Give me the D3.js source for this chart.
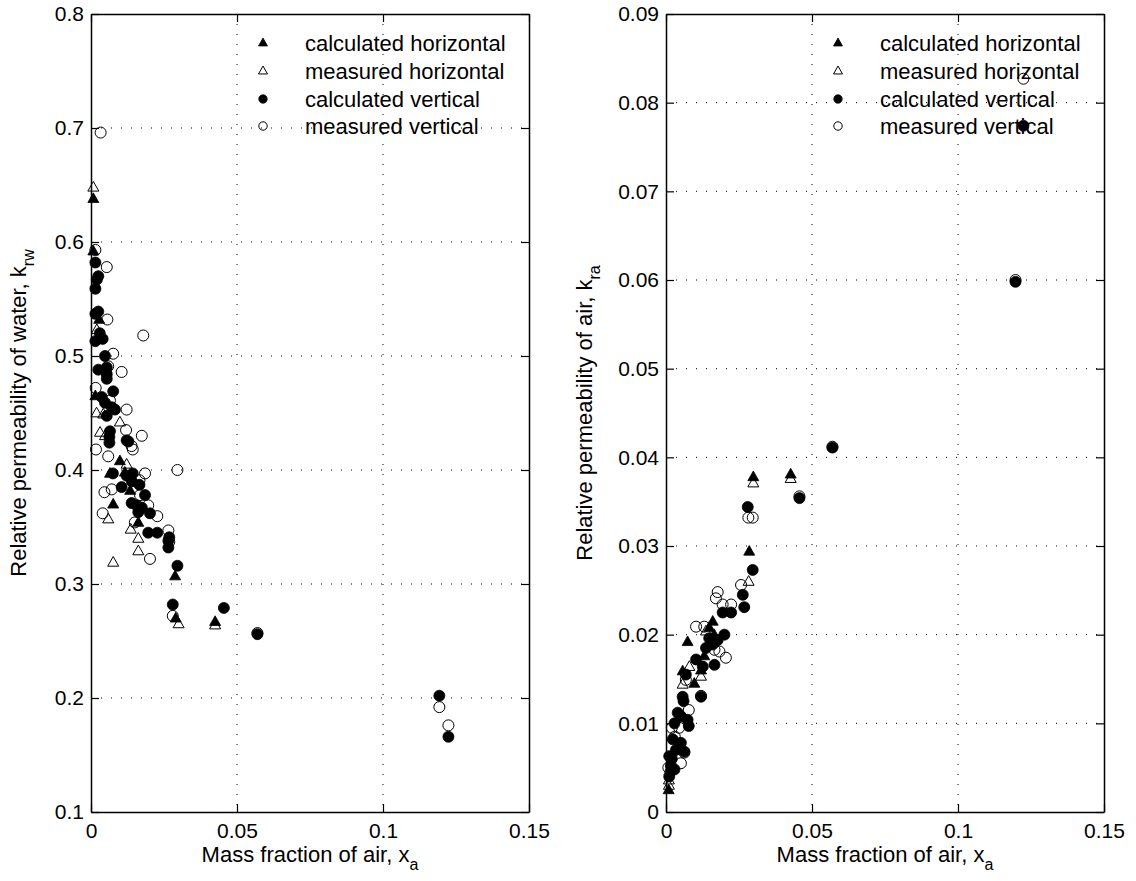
<!DOCTYPE html>
<html><head><meta charset="utf-8">
<script src="https://cdn.jsdelivr.net/npm/d3@7"></script>
<style>body{margin:0;background:#fff;} text{font-family:"Liberation Sans",Arial,sans-serif;}</style>
</head><body>
<svg id="c" width="1136" height="881"></svg>
<script>
// ---------- DATA ----------
const seriesNames = ["calculated horizontal","measured horizontal","calculated vertical","measured vertical"];
const xTicks = [0, 0.05, 0.1, 0.15];
const xTickLabels = ["0","0.05","0.1","0.15"];
const leftYTicks = [0.1,0.2,0.3,0.4,0.5,0.6,0.7,0.8];
const leftYTickLabels = ["0.1","0.2","0.3","0.4","0.5","0.6","0.7","0.8"];
const rightYTicks = [0,0.01,0.02,0.03,0.04,0.05,0.06,0.07,0.08,0.09];
const rightYTickLabels = ["0","0.01","0.02","0.03","0.04","0.05","0.06","0.07","0.08","0.09"];

// Left panel: relative permeability of water
const krwCalcHoriz = [[0.0008,0.638],[0.0008,0.592],[0.0028,0.532],[0.0015,0.465],[0.0099,0.408],[0.0065,0.397],[0.0116,0.398],[0.0134,0.382],[0.0076,0.370],[0.0162,0.354],[0.0288,0.307],[0.029,0.270],[0.0425,0.267]];
const krwMeasHoriz = [[0.0008,0.648],[0.002,0.523],[0.0019,0.450],[0.0042,0.449],[0.0099,0.442],[0.0031,0.433],[0.0048,0.430],[0.0122,0.405],[0.0059,0.357],[0.0136,0.348],[0.0162,0.340],[0.0162,0.329],[0.0076,0.319],[0.030,0.265],[0.0425,0.264]];
const krwCalcVert = [[0.0015,0.582],[0.0025,0.570],[0.002,0.567],[0.0015,0.559],[0.0025,0.539],[0.0015,0.537],[0.003,0.520],[0.004,0.515],[0.0015,0.513],[0.0048,0.500],[0.0025,0.488],[0.0054,0.490],[0.0054,0.484],[0.0054,0.480],[0.0037,0.464],[0.0076,0.469],[0.0048,0.459],[0.0071,0.455],[0.0082,0.453],[0.0054,0.4475],[0.0065,0.434],[0.0063,0.429],[0.0063,0.424],[0.0122,0.426],[0.0128,0.425],[0.0075,0.397],[0.0122,0.395],[0.0143,0.397],[0.014,0.390],[0.0105,0.385],[0.0166,0.387],[0.0185,0.378],[0.0139,0.371],[0.0156,0.369],[0.0174,0.367],[0.0162,0.363],[0.0202,0.362],[0.0196,0.345],[0.0227,0.345],[0.0268,0.341],[0.0265,0.338],[0.0265,0.332],[0.0296,0.316],[0.028,0.282],[0.0455,0.279],[0.057,0.256],[0.1193,0.202],[0.1224,0.166]];
const krwMeasVert = [[0.0033,0.696],[0.0015,0.593],[0.0054,0.578],[0.0056,0.532],[0.0179,0.518],[0.0076,0.502],[0.0059,0.491],[0.0105,0.486],[0.0016,0.472],[0.0065,0.461],[0.0122,0.453],[0.012,0.435],[0.0174,0.430],[0.0139,0.421],[0.0143,0.418],[0.0017,0.418],[0.0059,0.412],[0.0185,0.397],[0.0296,0.400],[0.0166,0.391],[0.0071,0.383],[0.0046,0.3805],[0.0168,0.378],[0.0196,0.369],[0.0227,0.3595],[0.004,0.362],[0.015,0.354],[0.0265,0.347],[0.0268,0.337],[0.0202,0.322],[0.028,0.272],[0.057,0.257],[0.1193,0.192],[0.1224,0.176]];

// Right panel: relative permeability of air
const kraCalcHoriz = [[0.0009,0.0025],[0.0017,0.005],[0.0074,0.0192],[0.016,0.0215],[0.0148,0.0208],[0.0165,0.020],[0.0131,0.0176],[0.012,0.016],[0.0057,0.0159],[0.0097,0.0145],[0.0285,0.0294],[0.0299,0.0378],[0.0427,0.0381]];
const kraMeasHoriz = [[0.001,0.0036],[0.001,0.003],[0.0057,0.0144],[0.008,0.0164],[0.012,0.0153],[0.0137,0.0204],[0.016,0.0195],[0.0283,0.026],[0.0299,0.0371],[0.0427,0.0376]];
const kraCalcVert = [[0.0011,0.004],[0.0011,0.0063],[0.0017,0.0052],[0.002,0.006],[0.0029,0.0048],[0.0023,0.0082],[0.0034,0.007],[0.0051,0.0078],[0.0063,0.0068],[0.0029,0.010],[0.004,0.0112],[0.0051,0.0108],[0.0074,0.0104],[0.0078,0.0097],[0.0057,0.013],[0.006,0.0125],[0.012,0.013],[0.0068,0.0155],[0.0103,0.0172],[0.0126,0.0164],[0.0166,0.0166],[0.0137,0.0185],[0.016,0.0189],[0.0177,0.0194],[0.0148,0.0196],[0.020,0.020],[0.0194,0.0225],[0.0223,0.0225],[0.0268,0.0231],[0.0263,0.0245],[0.0297,0.0273],[0.028,0.0344],[0.0457,0.0354],[0.057,0.0411],[0.1197,0.0598],[0.1224,0.0774]];
const kraMeasVert = [[0.0015,0.0045],[0.0008,0.005],[0.0051,0.0055],[0.0063,0.0067],[0.0068,0.0149],[0.0078,0.0115],[0.002,0.0095],[0.0045,0.0095],[0.003,0.0085],[0.012,0.0131],[0.0103,0.0209],[0.0131,0.0209],[0.0166,0.0183],[0.0183,0.0181],[0.0205,0.0174],[0.0177,0.0248],[0.0171,0.0241],[0.0194,0.0234],[0.0223,0.0234],[0.0257,0.0256],[0.0282,0.0332],[0.0297,0.0332],[0.0457,0.0356],[0.057,0.0412],[0.1197,0.0600],[0.1224,0.0827]];

// ---------- DRAW ----------
const svg = d3.select("#c");
const TFS = 21, LFS = 22;

function triPath(s){
  const h = s*0.88;
  return `M0,${-h/2-1}L${s/2},${h/2-1}L${-s/2},${h/2-1}Z`;
}
function drawMarker(g, type, x, y, big){
  const s = big ? 11 : 9;
  const r = big ? 5.5 : 4.2;
  if(type===0) g.append("path").attr("d",triPath(s)).attr("transform",`translate(${x},${y})`).attr("fill","#000").attr("stroke","#000").attr("stroke-width",0.8);
  else if(type===1) g.append("path").attr("d",triPath(s)).attr("transform",`translate(${x},${y})`).attr("fill","none").attr("stroke","#000").attr("stroke-width",1);
  else if(type===2) g.append("circle").attr("cx",x).attr("cy",y).attr("r",r).attr("fill","#000").attr("stroke","#000").attr("stroke-width",0.8);
  else g.append("circle").attr("cx",x).attr("cy",y).attr("r",r).attr("fill","none").attr("stroke","#000").attr("stroke-width",1);
}

function panel(cfg){
  const {x0,x1,y0,y1,yDomain,yTicks,yTickLabels,series,ylabel,ysub,ylabelX} = cfg;
  const x = d3.scaleLinear().domain([0,0.15]).range([x0,x1]);
  const y = d3.scaleLinear().domain(yDomain).range([y1,y0]);
  const g = svg.append("g");
  const grid = g.append("g").attr("stroke","#000").attr("stroke-width",1).attr("stroke-dasharray","1 9");
  xTicks.slice(1,-1).forEach(t=>grid.append("line").attr("x1",x(t)).attr("x2",x(t)).attr("y1",y0).attr("y2",y1));
  yTicks.slice(1,-1).forEach(t=>grid.append("line").attr("x1",x0).attr("x2",x1).attr("y1",y(t)).attr("y2",y(t)));
  const pg = g.append("g");
  series.forEach((arr,i)=>arr.forEach(d=>drawMarker(pg,i,x(d[0]),y(d[1]),true)));
  const tl = 8;
  const axB = d3.axisBottom(x).tickValues(xTicks).tickFormat((d,i)=>xTickLabels[i]).tickSizeInner(-tl).tickSizeOuter(0).tickPadding(11);
  const axT = d3.axisTop(x).tickValues(xTicks).tickFormat("").tickSizeInner(-tl).tickSizeOuter(0);
  const axL = d3.axisLeft(y).tickValues(yTicks).tickFormat((d,i)=>yTickLabels[i]).tickSizeInner(-tl).tickSizeOuter(0).tickPadding(7);
  const axR = d3.axisRight(y).tickValues(yTicks).tickFormat("").tickSizeInner(-tl).tickSizeOuter(0);
  const style = s=>{ s.selectAll("path").attr("stroke","#000").attr("stroke-width",1.5);
    s.selectAll("line").attr("stroke","#000").attr("stroke-width",1.2);
    s.selectAll("text").attr("font-size",TFS).attr("fill","#000").attr("font-family","Liberation Sans, Arial, sans-serif"); };
  g.append("g").attr("transform",`translate(0,${y1})`).call(axB).call(style);
  g.append("g").attr("transform",`translate(0,${y0})`).call(axT).call(style);
  g.append("g").attr("transform",`translate(${x0},0)`).call(axL).call(style);
  g.append("g").attr("transform",`translate(${x1},0)`).call(axR).call(style);
  const xl = g.append("text").attr("x",(x0+x1)/2).attr("y",862).attr("text-anchor","middle").attr("font-size",LFS);
  xl.append("tspan").text("Mass fraction of air, x");
  xl.append("tspan").attr("dy",8).attr("font-size",16).text("a");
  const yl = g.append("text").attr("transform",`translate(${ylabelX},${(y0+y1)/2}) rotate(-90)`).attr("text-anchor","middle").attr("font-size",LFS);
  yl.append("tspan").text(ylabel);
  yl.append("tspan").attr("dy",8).attr("font-size",16).text(ysub);
  const lx = x0 + 172, tx = x0 + 214;
  const rows = [43,71,99,126];
  seriesNames.forEach((n,i)=>{
    drawMarker(g,i,lx,rows[i],false);
    g.append("text").attr("x",tx).attr("y",rows[i]+8).attr("font-size",LFS).text(n);
  });
}

panel({x0:91,x1:529,y0:14,y1:812,yDomain:[0.1,0.8],yTicks:leftYTicks,yTickLabels:leftYTickLabels,
  series:[krwCalcHoriz,krwMeasHoriz,krwCalcVert,krwMeasVert],ylabel:"Relative permeability of water, k",ysub:"rw",ylabelX:26});
panel({x0:666,x1:1104,y0:14,y1:812,yDomain:[0,0.09],yTicks:rightYTicks,yTickLabels:rightYTickLabels,
  series:[kraCalcHoriz,kraMeasHoriz,kraCalcVert,kraMeasVert],ylabel:"Relative permeability of air, k",ysub:"ra",ylabelX:592});
</script>
</body></html>
